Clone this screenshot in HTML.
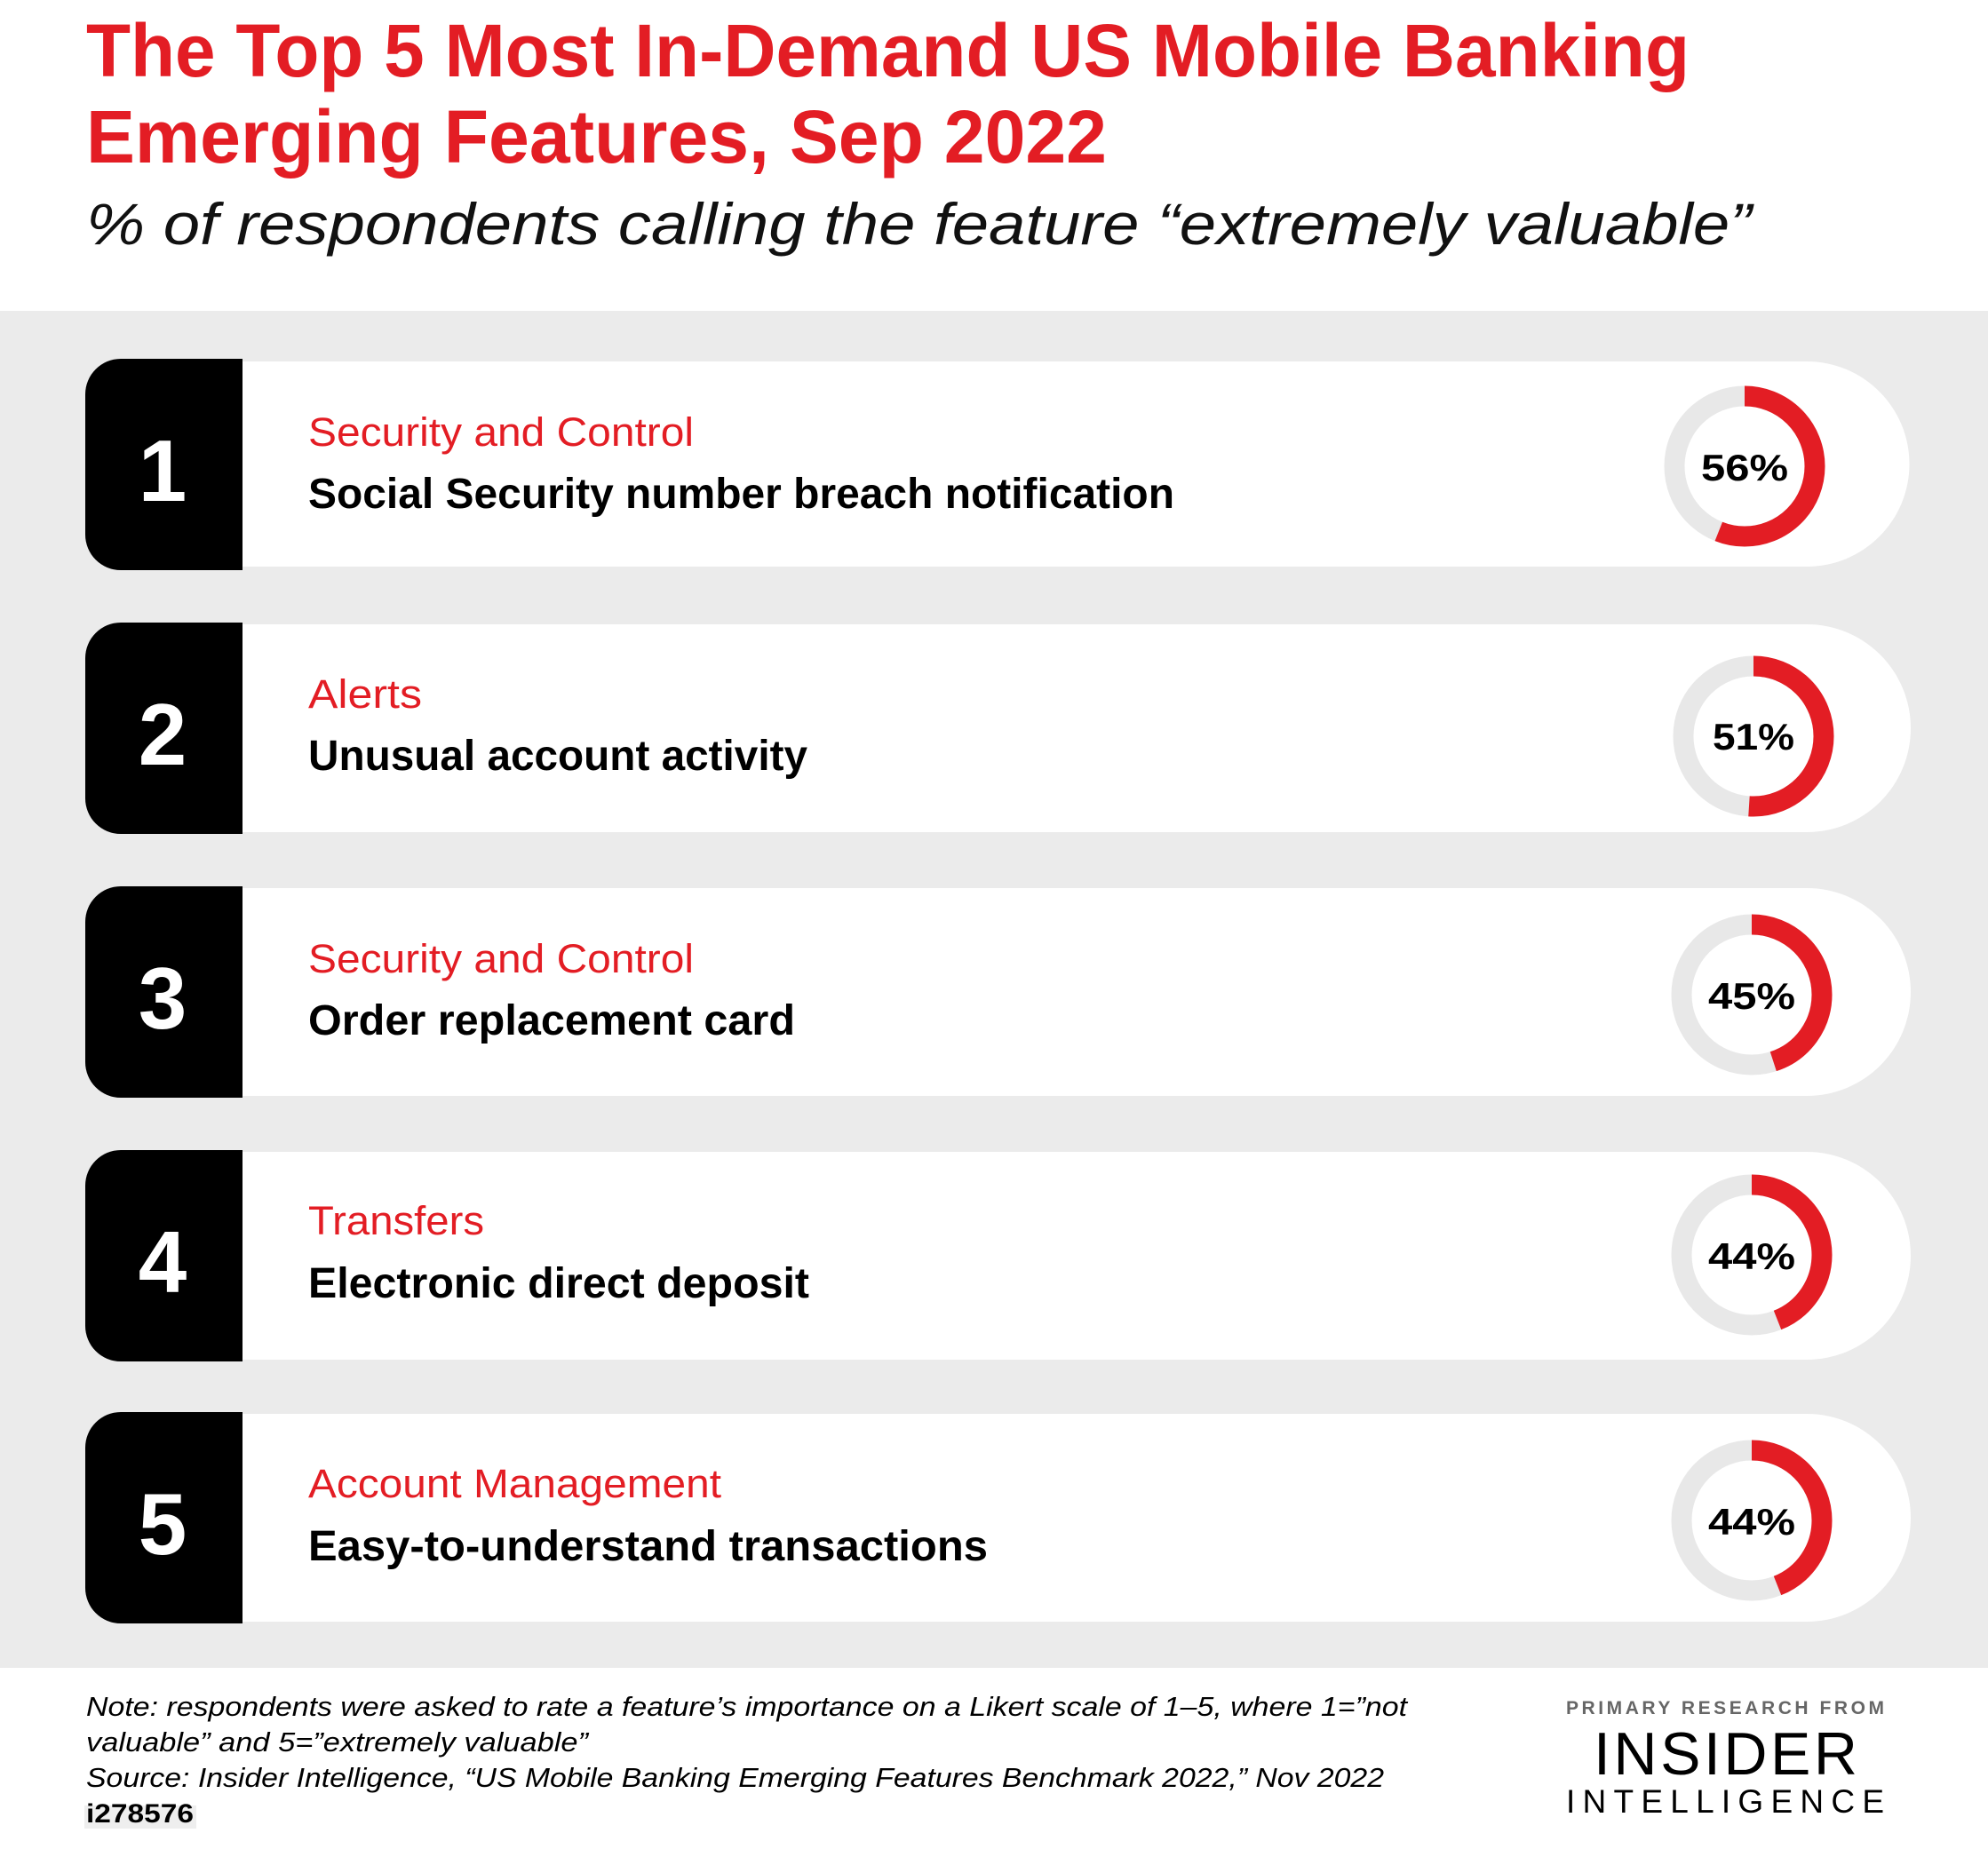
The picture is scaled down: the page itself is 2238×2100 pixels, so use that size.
<!DOCTYPE html>
<html><head><meta charset="utf-8"><style>html,body{margin:0;padding:0;background:#fff}svg{display:block}</style></head>
<body>
<svg width="2238" height="2100" viewBox="0 0 2238 2100" xmlns="http://www.w3.org/2000/svg" font-family="Liberation Sans, sans-serif">
<rect width="2238" height="2100" fill="#fff"/>
<text x="97" y="86" font-size="84" font-weight="bold" fill="#e31d24" textLength="1805" lengthAdjust="spacingAndGlyphs">The Top 5 Most In-Demand US Mobile Banking</text>
<text x="97" y="183" font-size="84" font-weight="bold" fill="#e31d24" textLength="1149" lengthAdjust="spacingAndGlyphs">Emerging Features, Sep 2022</text>
<text x="97" y="275" font-size="66" font-style="italic" fill="#111" textLength="1875" lengthAdjust="spacingAndGlyphs">% of respondents calling the feature “extremely valuable”</text>
<rect x="0" y="350" width="2238" height="1528" fill="#ebebeb"/>

<g transform="translate(0,404)">
<path d="M273 3 H2034 A115 115 0 0 1 2034 234 H273 Z" fill="#fff"/>
<path d="M273 0 V238 H136 A40 40 0 0 1 96 198 V40 A40 40 0 0 1 136 0 Z" fill="#000"/>
<text x="183" y="160" font-size="98" font-weight="bold" fill="#fff" text-anchor="middle">1</text>
<text x="347" y="98" font-size="45" fill="#e31d24" textLength="434" lengthAdjust="spacingAndGlyphs">Security and Control</text>
<text x="347" y="168" font-size="48" font-weight="bold" fill="#000" textLength="975" lengthAdjust="spacingAndGlyphs">Social Security number breach notification</text>
<circle cx="1964" cy="121" r="79" fill="none" stroke="#e8e8e8" stroke-width="23"/>
<circle cx="1964" cy="121" r="79" fill="none" stroke="#e31d24" stroke-width="23" stroke-dasharray="277.97 1000" transform="rotate(-90 1964 121)"/>
<text x="1964" y="137" font-size="42" font-weight="bold" fill="#000" text-anchor="middle" textLength="98" lengthAdjust="spacingAndGlyphs">56%</text>
</g>

<g transform="translate(0,701)">
<path d="M273 2 H2034 A115 115 0 0 1 2034 236 H273 Z" fill="#fff"/>
<path d="M273 0 V238 H136 A40 40 0 0 1 96 198 V40 A40 40 0 0 1 136 0 Z" fill="#000"/>
<text x="183" y="160" font-size="98" font-weight="bold" fill="#fff" text-anchor="middle">2</text>
<text x="347" y="96" font-size="45" fill="#e31d24" textLength="128" lengthAdjust="spacingAndGlyphs">Alerts</text>
<text x="347" y="166" font-size="48" font-weight="bold" fill="#000" textLength="562" lengthAdjust="spacingAndGlyphs">Unusual account activity</text>
<circle cx="1974" cy="128" r="79" fill="none" stroke="#e8e8e8" stroke-width="23"/>
<circle cx="1974" cy="128" r="79" fill="none" stroke="#e31d24" stroke-width="23" stroke-dasharray="253.15 1000" transform="rotate(-90 1974 128)"/>
<text x="1974" y="143" font-size="42" font-weight="bold" fill="#000" text-anchor="middle" textLength="92" lengthAdjust="spacingAndGlyphs">51%</text>
</g>

<g transform="translate(0,998)">
<path d="M273 2 H2034 A115 115 0 0 1 2034 236 H273 Z" fill="#fff"/>
<path d="M273 0 V238 H136 A40 40 0 0 1 96 198 V40 A40 40 0 0 1 136 0 Z" fill="#000"/>
<text x="183" y="160" font-size="98" font-weight="bold" fill="#fff" text-anchor="middle">3</text>
<text x="347" y="97" font-size="45" fill="#e31d24" textLength="434" lengthAdjust="spacingAndGlyphs">Security and Control</text>
<text x="347" y="167" font-size="48" font-weight="bold" fill="#000" textLength="548" lengthAdjust="spacingAndGlyphs">Order replacement card</text>
<circle cx="1972" cy="122" r="79" fill="none" stroke="#e8e8e8" stroke-width="23"/>
<circle cx="1972" cy="122" r="79" fill="none" stroke="#e31d24" stroke-width="23" stroke-dasharray="223.37 1000" transform="rotate(-90 1972 122)"/>
<text x="1972" y="138" font-size="42" font-weight="bold" fill="#000" text-anchor="middle" textLength="98" lengthAdjust="spacingAndGlyphs">45%</text>
</g>

<g transform="translate(0,1295)">
<path d="M273 2 H2034 A115 115 0 0 1 2034 236 H273 Z" fill="#fff"/>
<path d="M273 0 V238 H136 A40 40 0 0 1 96 198 V40 A40 40 0 0 1 136 0 Z" fill="#000"/>
<text x="183" y="160" font-size="98" font-weight="bold" fill="#fff" text-anchor="middle">4</text>
<text x="347" y="95" font-size="45" fill="#e31d24" textLength="198" lengthAdjust="spacingAndGlyphs">Transfers</text>
<text x="347" y="166" font-size="48" font-weight="bold" fill="#000" textLength="564" lengthAdjust="spacingAndGlyphs">Electronic direct deposit</text>
<circle cx="1972" cy="118" r="79" fill="none" stroke="#e8e8e8" stroke-width="23"/>
<circle cx="1972" cy="118" r="79" fill="none" stroke="#e31d24" stroke-width="23" stroke-dasharray="218.4 1000" transform="rotate(-90 1972 118)"/>
<text x="1972" y="134" font-size="42" font-weight="bold" fill="#000" text-anchor="middle" textLength="98" lengthAdjust="spacingAndGlyphs">44%</text>
</g>

<g transform="translate(0,1590)">
<path d="M273 2 H2034 A115 115 0 0 1 2034 236 H273 Z" fill="#fff"/>
<path d="M273 0 V238 H136 A40 40 0 0 1 96 198 V40 A40 40 0 0 1 136 0 Z" fill="#000"/>
<text x="183" y="160" font-size="98" font-weight="bold" fill="#fff" text-anchor="middle">5</text>
<text x="347" y="96" font-size="45" fill="#e31d24" textLength="465" lengthAdjust="spacingAndGlyphs">Account Management</text>
<text x="347" y="167" font-size="48" font-weight="bold" fill="#000" textLength="765" lengthAdjust="spacingAndGlyphs">Easy-to-understand transactions</text>
<circle cx="1972" cy="122" r="79" fill="none" stroke="#e8e8e8" stroke-width="23"/>
<circle cx="1972" cy="122" r="79" fill="none" stroke="#e31d24" stroke-width="23" stroke-dasharray="218.4 1000" transform="rotate(-90 1972 122)"/>
<text x="1972" y="138" font-size="42" font-weight="bold" fill="#000" text-anchor="middle" textLength="98" lengthAdjust="spacingAndGlyphs">44%</text>
</g>

<text x="97" y="1932" font-size="31" font-style="italic" fill="#000" textLength="1487" lengthAdjust="spacingAndGlyphs">Note: respondents were asked to rate a feature’s importance on a Likert scale of 1–5, where 1=”not</text>
<text x="97" y="1972" font-size="31" font-style="italic" fill="#000" textLength="565" lengthAdjust="spacingAndGlyphs">valuable” and 5=”extremely valuable”</text>
<text x="97" y="2012" font-size="31" font-style="italic" fill="#000" textLength="1461" lengthAdjust="spacingAndGlyphs">Source: Insider Intelligence, “US Mobile Banking Emerging Features Benchmark 2022,” Nov 2022</text>
<rect x="95" y="2033" width="126" height="26" fill="#eee"/>
<text x="97" y="2052" font-size="30" font-weight="bold" fill="#000" textLength="121" lengthAdjust="spacingAndGlyphs">i278576</text>

<text x="1763" y="1930" font-size="21" font-weight="bold" fill="#666" textLength="358" lengthAdjust="spacing">PRIMARY RESEARCH FROM</text>
<text x="1794" y="1998" font-size="68" fill="#000" textLength="297" lengthAdjust="spacing">INSIDER</text>
<text x="1763" y="2041" font-size="37" fill="#000" textLength="358" lengthAdjust="spacing">INTELLIGENCE</text>
</svg>
</body></html>
